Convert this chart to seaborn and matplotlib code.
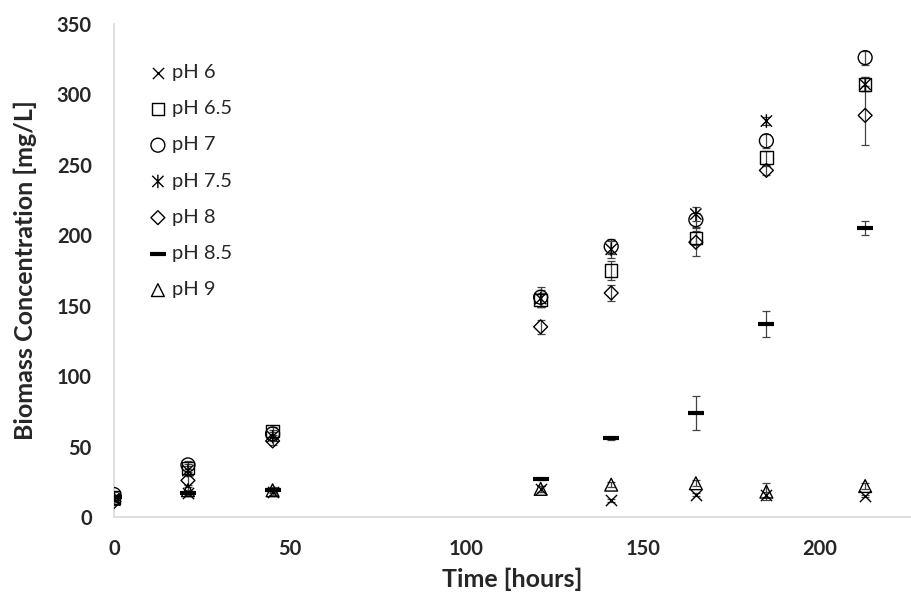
import matplotlib
matplotlib.use("Agg")
import matplotlib.pyplot as plt
from matplotlib.path import Path
import seaborn as sns

# === DATA ===
times = [0, 21, 45, 121, 141, 165, 185, 213]
labels = ["pH 6", "pH 6.5", "pH 7", "pH 7.5", "pH 8", "pH 8.5", "pH 9"]

ph6 = [13, 17, 18, 20, 12, 16, 16, 15]
ph65 = [14, 35, 61, 154, 175, 198, 255, 307]
ph7 = [16, 37, 59, 156, 192, 211, 267, 326]
ph75 = [13, 33, 57, 155, 190, 215, 281, 307]
ph8 = [11, 26, 54, 135, 159, 195, 246, 285]
ph85 = [14, 17, 19, 27, 56, 74, 137, 205]
ph9 = [13, 19, 19, 20, 23, 24, 18, 22]

err6 = [2, 2, 2, 2, 1, 1, 2, 1]
err65 = [2, 3, 3, 5, 7, 5, 5, 5]
err7 = [2, 3, 3, 7, 5, 5, 5, 5]
err75 = [2, 3, 3, 6, 6, 5, 3, 5]
err8 = [2, 3, 3, 5, 6, 10, 3, 21]
err85 = [1, 1, 1, 1, 1, 12, 9, 5]
err9 = [2, 2, 2, 2, 2, 2, 6, 2]

series = [ph6, ph65, ph7, ph75, ph8, ph85, ph9]
errors = [err6, err65, err7, err75, err8, err85, err9]

# Excel-like asterisk: an X plus a vertical stroke
asterisk = Path(
    [(-1, -1), (1, 1), (-1, 1), (1, -1), (0, -1.2), (0, 1.2)],
    [Path.MOVETO, Path.LINETO, Path.MOVETO, Path.LINETO, Path.MOVETO, Path.LINETO],
)

# marker style per series: (marker, size, outline only?, linewidth)
styles = [
    ("x", 65, False, 1.0),
    ("s", 80, True, 1.0),
    ("o", 100, True, 1.0),
    (asterisk, 95, True, 1.0),
    ("D", 50, True, 1.0),
    ("_", 120, False, 3.0),
    ("^", 85, True, 1.0),
]

# === PLOT ===
sns.set_theme(style="white")
plt.rcParams['font.family'] = ['Lato', 'DejaVu Sans']

fig = plt.figure(figsize=(9.11, 5.95), dpi=100)
ax = fig.add_axes([0.125, 0.131, 0.875, 0.829])

for vals, errs, lab, (m, s, outline, lw) in zip(series, errors, labels, styles):
    ax.errorbar(times, vals, yerr=errs, fmt="none", ecolor="#444444",
                elinewidth=0.9, capsize=3, capthick=0.9, zorder=1)
    if outline:
        sns.scatterplot(x=times, y=vals, marker=m, s=s, facecolors="none",
                        edgecolor="black", linewidth=lw, label=lab, ax=ax, zorder=3)
    else:
        sns.scatterplot(x=times, y=vals, marker=m, s=s, color="black",
                        linewidth=lw, label=lab, ax=ax, zorder=3)

ax.set_xlim(0, 226)
ax.set_ylim(0, 350)
ax.set_xticks([0, 50, 100, 150, 200])
ax.set_yticks(range(0, 351, 50))
ax.tick_params(axis="x", length=0, labelsize=14.5, pad=16)
ax.tick_params(axis="y", length=0, labelsize=14.5, pad=16)
for t in ax.get_xticklabels() + ax.get_yticklabels():
    t.set_fontweight("bold")

ax.set_xlabel("Time [hours]", fontsize=18, fontweight="bold", labelpad=6)
ax.set_ylabel("Biomass Concentration [mg/L]", fontsize=18, fontweight="bold", labelpad=14)

sns.despine(ax=ax)
for side in ["left", "bottom"]:
    ax.spines[side].set_color("#d9d9d9")
    ax.spines[side].set_linewidth(1.2)

leg = ax.legend(loc="upper left", bbox_to_anchor=(0.035, 0.935), frameon=False,
                fontsize=14.5, labelspacing=0.95, handlelength=0.8,
                handletextpad=0.3, borderaxespad=0)

fig.savefig("out.png", dpi=100)
